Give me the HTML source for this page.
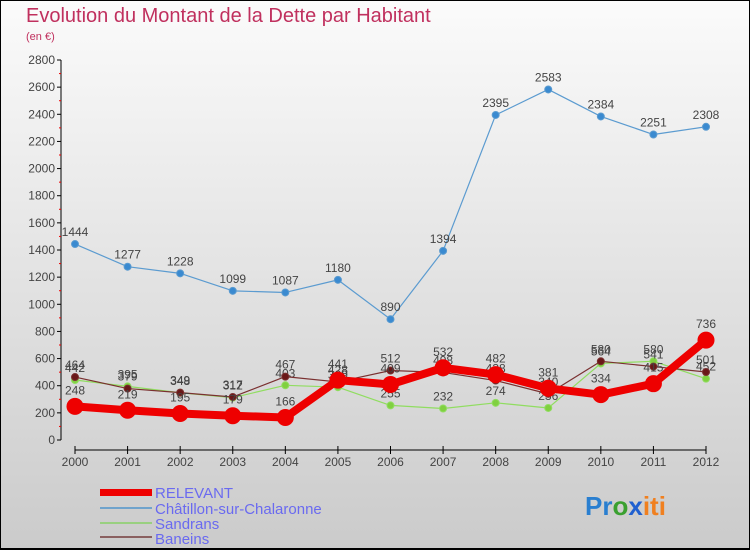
<!DOCTYPE html>
<html><head><meta charset="utf-8"><style>
html,body{margin:0;padding:0}
body{width:750px;height:550px;overflow:hidden;font-family:"Liberation Sans",sans-serif}
</style></head><body>
<svg width="750" height="550" xmlns="http://www.w3.org/2000/svg">
<defs><linearGradient id="bg" x1="0" y1="0" x2="0" y2="1"><stop offset="0" stop-color="#fbfbfb"/><stop offset="1" stop-color="#cbcbcb"/></linearGradient></defs>
<rect x="0.5" y="0.5" width="749" height="548" fill="url(#bg)" stroke="#000"/>
<line x1="0" y1="549" x2="750" y2="549" stroke="#000" stroke-width="2"/>
<text x="26" y="22" font-size="20" fill="#c0305e">Evolution du Montant de la Dette par Habitant</text>
<text x="26" y="40" font-size="11" fill="#c0305e">(en €)</text>
<g id="axes"></g>
<g id="series"></g>
<g font-size="15" fill="#6a6af0">
<rect x="100" y="489" width="52" height="7" fill="#e00"/>
<text x="155" y="498">RELEVANT</text>
<rect x="100" y="507" width="52" height="2" fill="#6fa3cc"/>
<text x="155" y="514">Châtillon-sur-Chalaronne</text>
<rect x="100" y="522" width="52" height="2" fill="#99d080"/>
<text x="155" y="529">Sandrans</text>
<rect x="100" y="536" width="52" height="2" fill="#8a6060"/>
<text x="155" y="544">Baneins</text>
</g>
<g font-size="26" font-weight="bold">
<text x="585" y="515"><tspan fill="#2a7fd0">Pr</tspan><tspan fill="#3aa030">o</tspan><tspan fill="#2060d0">x</tspan><tspan fill="#f08020">iti</tspan></text>
</g>
</svg>
<script>
const years=[2000,2001,2002,2003,2004,2005,2006,2007,2008,2009,2010,2011,2012];
const yTicks=[0,200,400,600,800,1000,1200,1400,1600,1800,2000,2200,2400,2600,2800];
const relevant=[248,219,195,179,166,441,409,532,482,381,334,415,736];
const chatillon=[1444,1277,1228,1099,1087,1180,890,1394,2395,2583,2384,2251,2308];
const sandrans=[442,395,348,312,403,389,255,232,274,236,564,580,452];
const baneins=[464,379,349,317,467,428,512,498,438,340,580,541,501];
const NS="http://www.w3.org/2000/svg";
const xS=i=>75+i*(706-75)/(years.length-1);
const yS=v=>440-v*380/2800;
function mk(t,a,p){const e=document.createElementNS(NS,t);for(const k in a)e.setAttribute(k,a[k]);p.appendChild(e);return e;}
const ax=document.getElementById('axes');
const yl=mk('line',{x1:61,y1:yS(2800),x2:61,y2:yS(0),stroke:'#000'},ax);


yTicks.forEach(v=>{
 mk('line',{x1:57,y1:yS(v),x2:61,y2:yS(v),stroke:'#000'},ax);
 if(v<2800) mk('line',{x1:59,y1:yS(v+100),x2:61,y2:yS(v+100),stroke:'#e00'},ax);
 const t=mk('text',{x:55,y:yS(v)+4,'font-size':12,fill:'#444','text-anchor':'end'},ax);
 t.textContent=v;
 
 
});
const xl=mk('line',{x1:xS(0),y1:450,x2:xS(12),y2:450,stroke:'#000'},ax);


years.forEach((y,i)=>{
 mk('line',{x1:xS(i),y1:446,x2:xS(i),y2:454,stroke:'#000'},ax);
 const t=mk('text',{x:xS(i),y:466,'font-size':12,fill:'#444','text-anchor':'middle'},ax);
 t.textContent=y;
 
 
});
const sg=document.getElementById('series');
function series(name,data,color,w,r,dot){
 const g=mk('g',{},sg);
 
 
 const pl=mk('polyline',{points:data.map((v,i)=>xS(i)+','+yS(v)).join(' '),fill:'none',stroke:color,'stroke-width':w,'stroke-linejoin':'round'},g);
 
 
 data.forEach((v,i)=>{
  const c=mk('circle',{cx:xS(i),cy:yS(v),r:r,fill:dot,stroke:color,'stroke-width':1},g);
  
  
  const t=mk('text',{x:xS(i),y:yS(v)-8-(r>5?4:0),'font-size':12,fill:'#444','text-anchor':'middle'},g);
  t.textContent=v;
  
  
 });
}
series('chatillon',chatillon,'#5b9bd0',1.2,3.5,'#3a8ad0');
series('sandrans',sandrans,'#90dd60',1.2,3.5,'#80d040');
series('baneins',baneins,'#7a3030',1.2,3.5,'#6a1818');
series('relevant',relevant,'#ee0000',8,8,'#ee0000');
</script>
</body></html>
